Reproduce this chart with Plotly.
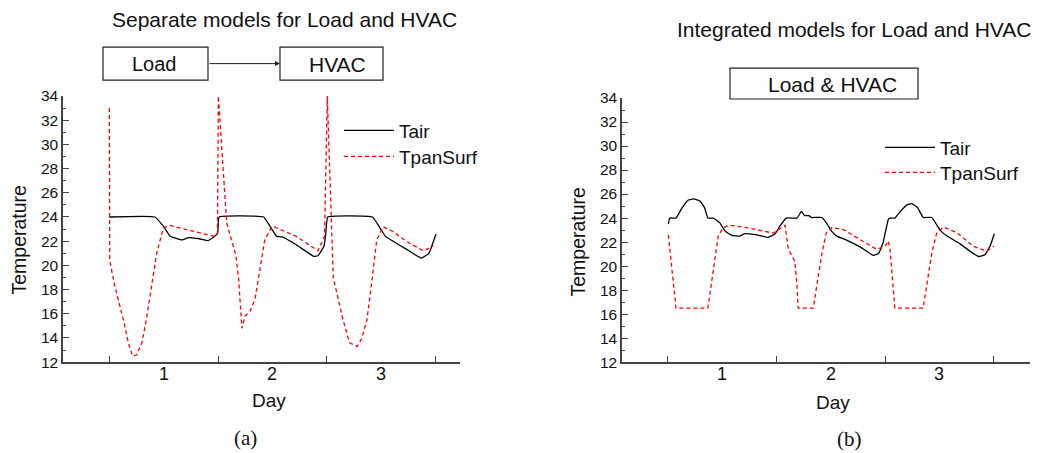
import plotly.graph_objects as go

W, H = 1038, 453

# ---------------- data ----------------
day_labels = ["1", "2", "3"]
day_label_pos = [0.5, 1.5, 2.5]
day_bounds = [0, 1, 2, 3]

# (a) separate models
days_a_tair = [0.0, 0.42, 0.50, 0.56, 0.67, 0.73, 0.83, 0.91, 0.97, 0.997, 1.01, 1.42, 1.48, 1.54,
               1.59, 1.72, 1.88, 1.92, 1.975, 1.99, 2.01, 2.42, 2.49, 2.54, 2.61, 2.74, 2.87, 2.94, 3.005]
tair_a = [24.0, 24.0, 23.2, 22.4, 22.1, 22.3, 22.2, 22.05, 22.4, 22.7, 24.0, 24.0, 23.2, 22.4,
          22.35, 21.7, 20.75, 20.8, 21.6, 22.5, 24.0, 24.0, 23.1, 22.4, 22.0, 21.3, 20.6, 21.0, 22.6]

days_a_pan = [0.0, 0.004, 0.05, 0.13, 0.175, 0.215, 0.25, 0.30, 0.34, 0.39, 0.436, 0.497, 0.56, 0.71,
              0.97, 0.995, 1.003, 1.08, 1.165, 1.19, 1.22, 1.248, 1.294, 1.34, 1.386, 1.43, 1.494,
              1.51, 1.72, 1.85, 1.92, 1.98, 2.005, 2.06, 2.15, 2.21, 2.28, 2.32, 2.37, 2.41, 2.46,
              2.52, 2.61, 2.73, 2.89, 2.98]
pan_a = [33.0, 20.4, 18.3, 15.5, 13.6, 12.5, 12.6, 13.6, 15.5, 18.3, 21.0, 23.1, 23.3, 22.95,
         22.4, 22.6, 34.0, 23.5, 20.8, 18.8, 14.8, 15.8, 16.2, 17.2, 19.6, 22.1, 23.2,
         23.2, 22.4, 21.6, 21.2, 22.4, 34.0, 19.0, 15.5, 13.6, 13.3, 13.9, 15.5, 18.3, 22.1,
         23.2, 22.8, 22.0, 21.2, 21.6]

# (b) integrated models
days_b_tair = [0.006, 0.02, 0.076, 0.13, 0.19, 0.24, 0.30, 0.34, 0.37, 0.42, 0.48, 0.53, 0.59, 0.665,
               0.71, 0.82, 0.925, 0.99, 1.03, 1.09, 1.19, 1.23, 1.26, 1.30, 1.32, 1.42, 1.46, 1.51,
               1.555, 1.65, 1.77, 1.89, 1.94, 1.98, 2.03, 2.045, 2.09, 2.14, 2.20, 2.245, 2.30, 2.35,
               2.43, 2.505, 2.57, 2.69, 2.78, 2.86, 2.92, 2.965, 3.005]
tair_b = [23.5, 24.0, 24.0, 24.8, 25.5, 25.6, 25.4, 24.85, 24.0, 24.0, 23.6, 22.9, 22.55, 22.5,
          22.7, 22.6, 22.4, 22.7, 23.3, 24.0, 24.0, 24.55, 24.2, 24.2, 24.05, 24.05, 23.6, 22.9,
          22.5, 22.15, 21.6, 20.9, 21.05, 21.9, 23.9, 24.0, 24.0, 24.55, 25.1, 25.2, 24.85, 24.05,
          24.05, 23.0, 22.5, 21.85, 21.25, 20.8, 20.95, 21.65, 22.7]

days_b_pan = [0.006, 0.05, 0.077, 0.37, 0.40, 0.435, 0.465, 0.51, 0.57, 0.73, 0.91, 0.97, 1.08, 1.11,
              1.17, 1.19, 1.20, 1.34, 1.37, 1.42, 1.46, 1.51, 1.615, 1.77, 1.92, 2.0, 2.03, 2.045,
              2.075, 2.09, 2.35, 2.38, 2.43, 2.475, 2.535, 2.66, 2.81, 2.935, 3.0]
pan_b = [22.6, 18.9, 16.5, 16.5, 18.3, 20.8, 22.5, 23.2, 23.4, 23.2, 22.9, 22.75, 23.4, 21.4,
         20.4, 18.35, 16.5, 16.5, 18.3, 21.1, 22.8, 23.2, 23.05, 22.2, 21.4, 21.65, 22.1, 21.4,
         18.3, 16.5, 16.5, 18.3, 21.1, 22.75, 23.25, 22.8, 21.65, 21.25, 21.65]

# ---------------- helpers ----------------
def px(x):
    return x / W

def fy(y):
    # picture pixel row -> figure pixel row (page offset / vertical capture scale)
    return (y - 1) / 0.9655 - 8

def py(y):
    return 1 - fy(y) / H

FONT = "Liberation Sans, Arial, sans-serif"
SERIF = "Liberation Serif, Times New Roman, serif"
AX = "#444444"

fig = go.Figure()

tair_line = dict(color="black", width=1.3)
pan_line = dict(color="#ff0000", width=1.3, dash="4px,3px")

fig.add_trace(go.Scatter(x=days_a_tair, y=tair_a, mode="lines", name="Tair", line=tair_line,
                         line_shape="spline", line_smoothing=0.3,
                         xaxis="x", yaxis="y", legend="legend"))
fig.add_trace(go.Scatter(x=days_a_pan, y=pan_a, mode="lines", name="TpanSurf", line=pan_line,
                         xaxis="x", yaxis="y", legend="legend2"))
fig.add_trace(go.Scatter(x=days_b_tair, y=tair_b, mode="lines", name="Tair", line=tair_line,
                         line_shape="spline", line_smoothing=0.3,
                         xaxis="x2", yaxis="y2", legend="legend3"))
fig.add_trace(go.Scatter(x=days_b_pan, y=pan_b, mode="lines", name="TpanSurf", line=pan_line,
                         xaxis="x2", yaxis="y2", legend="legend4"))

def xaxis(domain, rng, anchor):
    return dict(domain=domain, range=rng, anchor=anchor, showgrid=False, zeroline=False,
                showline=True, linecolor=AX, linewidth=1.5,
                tickmode="array", tickvals=day_bounds, ticks="inside", ticklen=6,
                tickwidth=1.3, tickcolor=AX, showticklabels=False)

def yaxis(domain, anchor):
    return dict(domain=domain, range=[12, 34], anchor=anchor, showgrid=False, zeroline=False,
                showline=True, linecolor=AX, linewidth=1.5,
                tickmode="linear", tick0=12, dtick=2, ticks="inside", ticklen=6,
                tickwidth=1.3, tickcolor=AX,
                tickfont=dict(family=FONT, size=15.5, color="#111"),
                minor=dict(tick0=13, dtick=2, ticks="inside", ticklen=3, tickwidth=1.1,
                           tickcolor=AX, showgrid=False))

def leg(x, y_row):
    return dict(x=px(x), y=1 - (fy(y_row) - 19) / H, xanchor="left", yanchor="top",
                font=dict(family=FONT, size=19, color="#111"), bgcolor="rgba(0,0,0,0)",
                itemwidth=50)

xa0, xa1 = -0.426, 3.226
xb0, xb1 = -0.42, 3.333

fig.update_layout(
    width=W, height=H, margin=dict(l=0, r=0, t=0, b=0),
    paper_bgcolor="white", plot_bgcolor="white",
    xaxis=xaxis([px(63), px(460)], [xa0, xa1], "y"),
    yaxis=yaxis([py(363), py(96)], "x"),
    xaxis2=xaxis([px(622), px(1030)], [xb0, xb1], "y2"),
    yaxis2=yaxis([py(363), py(98)], "x2"),
    legend=leg(339, 130),
    legend2=leg(339, 156),
    legend3=leg(880, 147),
    legend4=leg(880, 172),
    showlegend=True,
)

# day labels centred between the day boundary ticks
for xref in ("x", "x2"):
    for lab, pos in zip(day_labels, day_label_pos):
        fig.add_annotation(text=lab, x=pos, xref=xref, y=py(375), yref="paper",
                           showarrow=False, xanchor="center", yanchor="middle",
                           font=dict(family=FONT, size=18, color="#111"))

# titles, axis labels, captions
def ann(text, x, y, size, family=FONT, angle=0):
    fig.add_annotation(text=text, x=px(x), y=py(y), xref="paper", yref="paper",
                       showarrow=False, xanchor="center", yanchor="middle",
                       font=dict(family=family, size=size, color="#111"), textangle=angle)

ann("Separate models for Load and HVAC", 284, 19, 21)
ann("Integrated models for Load and HVAC", 854, 29, 21)
ann("Temperature", 19, 241, 19.5, angle=-90)
ann("Temperature", 578, 243, 19.5, angle=-90)
ann("Day", 269, 401, 19)
ann("Day", 833, 403, 19)
ann("(a)", 245, 439, 21, family=SERIF)
ann("(b)", 849, 440, 21, family=SERIF)

# block diagram boxes
def box(x0, y0, x1, y1):
    fig.add_shape(type="rect", xref="paper", yref="paper", x0=px(x0), x1=px(x1),
                  y0=py(y1), y1=py(y0), line=dict(color="#222", width=1.2), fillcolor="white")

box(103, 47, 208, 80)
box(280, 47, 383, 80)
box(730, 68, 918, 99)
ann("Load", 154, 64, 20)
ann("HVAC", 337, 64, 21)
ann("Load & HVAC", 832, 84, 21)
fig.add_annotation(x=px(280), y=py(63.5), ax=-72, ay=0, xref="paper", yref="paper",
                   axref="pixel", ayref="pixel", showarrow=True, arrowhead=2, arrowsize=1,
                   arrowwidth=1, arrowcolor="#222", text="")

fig.write_html("out.html")
